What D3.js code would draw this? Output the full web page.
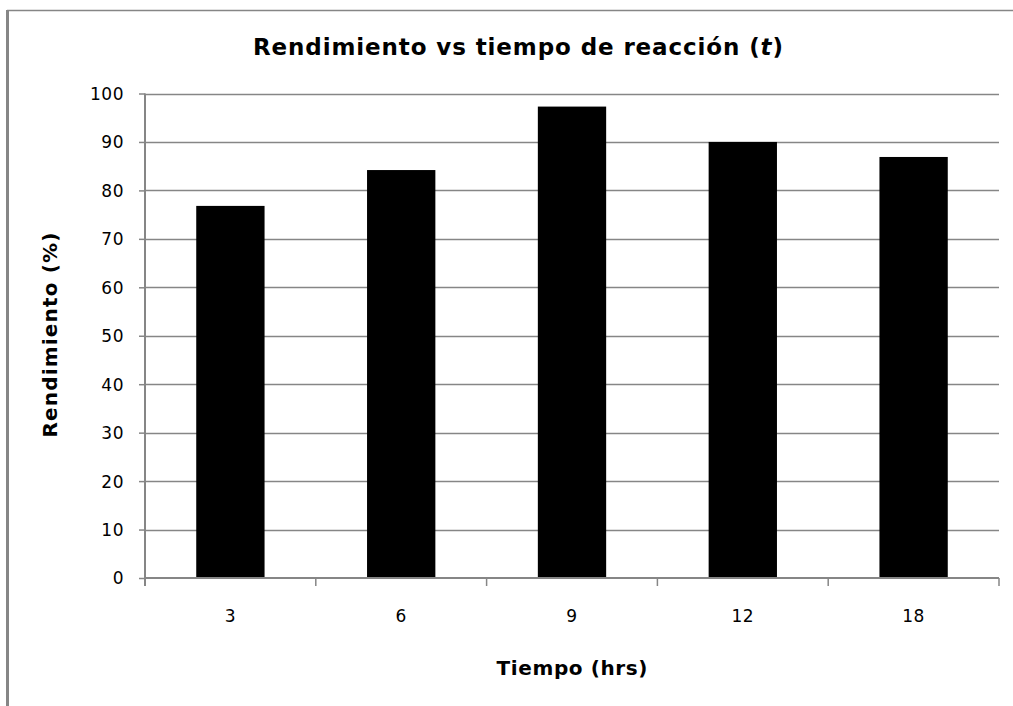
<!DOCTYPE html>
<html>
<head>
<meta charset="utf-8">
<script src="https://cdn.jsdelivr.net/npm/d3@7"></script>
<style>
  html, body { margin: 0; padding: 0; background: #fff; }
  svg { display: block; }
</style>
</head>
<body>
<svg id="chart" width="1013" height="706"></svg>
<script>
const categories = ["3", "6", "9", "12", "18"];
const rendimiento = [76.8, 84.2, 97.3, 90.0, 86.9];
const yTicks = [0, 10, 20, 30, 40, 50, 60, 70, 80, 90, 100];
const titleText = "Rendimiento vs tiempo de reacción (";
const xTitle = "Tiempo (hrs)";
const yTitle = "Rendimiento (%)";

const svg = d3.select("#chart");
const W = 1013, H = 706;
const plot = { left: 145, right: 999, top: 93.5, bottom: 578 };
const grey = "#868686";

// outer frame (top and left lines)
svg.append("line").attr("x1", 7).attr("x2", W).attr("y1", 10.5).attr("y2", 10.5)
  .attr("stroke", grey).attr("stroke-width", 1.5);
svg.append("line").attr("x1", 7.5).attr("x2", 7.5).attr("y1", 10).attr("y2", H)
  .attr("stroke", grey).attr("stroke-width", 3);

const x = d3.scaleBand().domain(categories).range([plot.left, plot.right])
  .paddingInner(0.6).paddingOuter(0.3);
const y = d3.scaleLinear().domain([0, 100]).range([plot.bottom, plot.top]);

// gridlines
svg.append("g").selectAll("line").data(yTicks.filter(d => d > 0)).join("line")
  .attr("x1", plot.left).attr("x2", plot.right)
  .attr("y1", d => Math.round(y(d)) + 0.5).attr("y2", d => Math.round(y(d)) + 0.5)
  .attr("stroke", grey).attr("stroke-width", 1.5);

// bars
svg.append("g").selectAll("rect").data(rendimiento).join("rect")
  .attr("x", (d, i) => x(categories[i]))
  .attr("width", x.bandwidth())
  .attr("y", d => y(d))
  .attr("height", d => y(0) - y(d))
  .attr("fill", "#000");

// y axis
const yAxis = d3.axisLeft(y).tickValues(yTicks).tickSize(6).tickPadding(15);
const gy = svg.append("g").attr("transform", `translate(${plot.left},0)`).call(yAxis);
gy.select(".domain").attr("d", `M0,${plot.top}V${plot.bottom + 8}`).attr("stroke", grey).attr("stroke-width", 2);
gy.selectAll(".tick line").attr("stroke", grey).attr("stroke-width", 1.5);
gy.selectAll(".tick text").attr("font-family", "DejaVu Sans").attr("font-size", 17)
  .attr("letter-spacing", "0.5px").attr("fill", "#000").attr("dy", "0.35em");

// x axis
const xAxis = d3.axisBottom(x).tickSize(0).tickPadding(32);
const gx = svg.append("g").attr("transform", `translate(0,${plot.bottom})`).call(xAxis);
gx.select(".domain").attr("d", `M${plot.left},0H${plot.right}`).attr("stroke", grey).attr("stroke-width", 2);
gx.selectAll(".tick text").attr("font-family", "DejaVu Sans").attr("font-size", 17)
  .attr("letter-spacing", "0.5px").attr("fill", "#000");
// category boundary tick marks
const bounds = d3.range(categories.length + 1).map(i => plot.left + i * x.step());
gx.append("g").selectAll("line").data(bounds).join("line")
  .attr("x1", d => d).attr("x2", d => d).attr("y1", 0).attr("y2", 8)
  .attr("stroke", grey).attr("stroke-width", 1.5);

// title
const t = svg.append("text").attr("x", 518).attr("y", 55).attr("text-anchor", "middle")
  .attr("font-family", "DejaVu Sans").attr("font-size", 23).attr("font-weight", "bold")
  .attr("fill", "#000").attr("textLength", 530).attr("lengthAdjust", "spacing");
t.append("tspan").text(titleText);
t.append("tspan").attr("font-style", "italic").text("t");
t.append("tspan").text(")");

// axis titles
svg.append("text").attr("x", 572).attr("y", 675).attr("text-anchor", "middle")
  .attr("font-family", "DejaVu Sans").attr("font-weight", "bold").attr("font-size", 20)
  .attr("textLength", 151).attr("lengthAdjust", "spacing")
  .attr("fill", "#000").text(xTitle);
svg.append("text").attr("transform", `translate(57,335) rotate(-90)`).attr("text-anchor", "middle")
  .attr("font-family", "DejaVu Sans").attr("font-weight", "bold").attr("font-size", 20)
  .attr("textLength", 205).attr("lengthAdjust", "spacing")
  .attr("fill", "#000").text(yTitle);
</script>
</body>
</html>
